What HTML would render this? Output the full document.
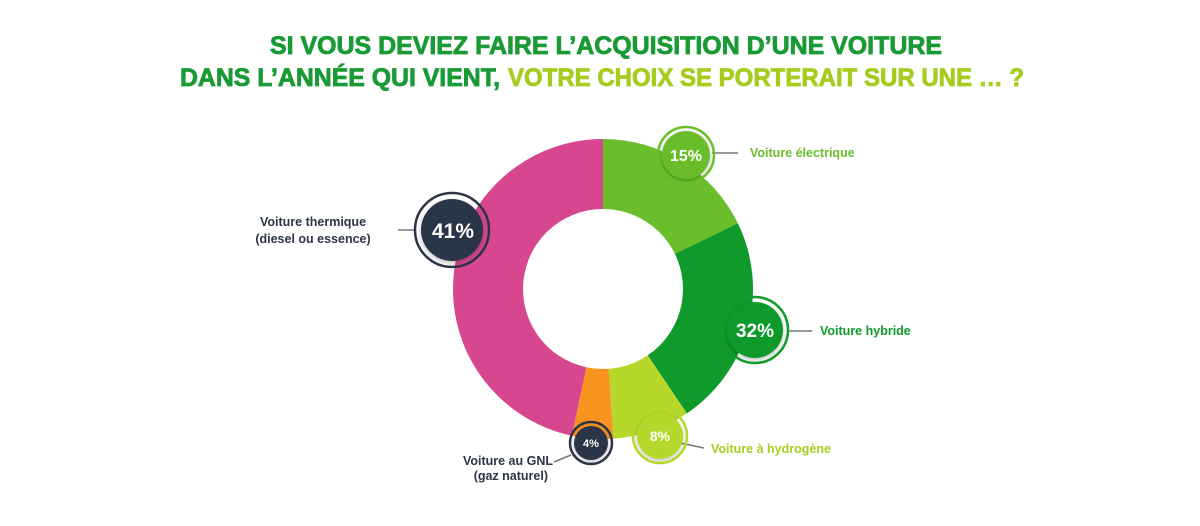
<!DOCTYPE html>
<html><head><meta charset="utf-8"><style>
html,body{margin:0;padding:0;background:#fff;}
svg{display:block;font-family:"Liberation Sans",sans-serif;}
</style></head><body>
<svg width="1200" height="526" viewBox="0 0 1200 526" xmlns="http://www.w3.org/2000/svg">
<defs>
<filter id="sh" x="-50%" y="-50%" width="200%" height="200%"><feDropShadow dx="0" dy="2" stdDeviation="3" flood-color="#000" flood-opacity="0.25"/></filter>
</defs>
<g stroke-width="0.8">
<text x="606" y="54" text-anchor="middle" font-size="25" font-weight="bold" fill="#199a34" stroke="#199a34" textLength="672" lengthAdjust="spacingAndGlyphs">SI VOUS DEVIEZ FAIRE L’ACQUISITION D’UNE VOITURE</text>
<text x="180" y="86" font-size="25" font-weight="bold" fill="#199a34" stroke="#199a34" textLength="320" lengthAdjust="spacingAndGlyphs">DANS L’ANNÉE QUI VIENT,</text>
<text x="508" y="86" font-size="25" font-weight="bold" fill="#a6cc1f" stroke="#a6cc1f" textLength="516" lengthAdjust="spacingAndGlyphs">VOTRE CHOIX SE PORTERAIT SUR UNE … ?</text>
</g>

<g id="donut"></g>
<circle cx="603" cy="289" r="80" fill="#fff"/>

<g stroke="#777" stroke-width="1.5" fill="none">
<line x1="712" y1="153" x2="738" y2="153"/>
<line x1="787" y1="331" x2="812" y2="331"/>
<line x1="680" y1="443" x2="704" y2="448"/>
<line x1="571" y1="455" x2="554" y2="462"/>
<line x1="398" y1="230" x2="416" y2="230"/>
</g>

<g filter="url(#sh)">
<circle cx="686" cy="155" r="24" fill="#6abd2b"/>
<circle cx="755" cy="330" r="28" fill="#0f9a2b"/>
<circle cx="660" cy="436" r="23" fill="#b6d82a"/>
<circle cx="591" cy="443" r="17" fill="#2c3446"/>
<circle cx="452" cy="230" r="31" fill="#2c3446"/>
</g>
<g fill="none" stroke-width="2.5">
<circle cx="686" cy="155" r="28" stroke="#6abd2b"/>
<circle cx="755" cy="330" r="33" stroke="#0f9a2b"/>
<circle cx="660" cy="436" r="27" stroke="#b6d82a"/>
<circle cx="591" cy="443" r="21" stroke="#2c3446"/>
<circle cx="452" cy="230" r="37" stroke="#2c3446"/>
</g>
<g fill="#fff" font-weight="bold" text-anchor="middle">
<text x="686" y="161" font-size="16">15%</text>
<text x="755" y="337" font-size="19">32%</text>
<text x="660" y="441" font-size="14">8%</text>
<text x="591" y="447" font-size="11">4%</text>
<text x="453" y="238" font-size="21">41%</text>
</g>

<g font-weight="bold" font-size="12.5">
<text x="750" y="157" fill="#6abd2b">Voiture électrique</text>
<text x="820" y="335" fill="#0f9a2b">Voiture hybride</text>
<text x="711" y="453" fill="#a6cc1f">Voiture à hydrogène</text>
<text x="553" y="465" fill="#2c3446" text-anchor="end">Voiture au GNL</text>
<text x="548" y="480" fill="#2c3446" text-anchor="end">(gaz naturel)</text>
<text x="313" y="226" fill="#2c3446" text-anchor="middle">Voiture thermique</text>
<text x="313" y="243" fill="#2c3446" text-anchor="middle">(diesel ou essence)</text>
</g>
<script>
(function(){
var cx=603,cy=289,R=150;
var segs=[[0,64,"#6abd2b"],[64,146,"#0f9a2b"],[146,176,"#b6d82a"],[176,192,"#f7931e"],[192,360,"#d6478f"]];
var g=document.getElementById("donut"),ns="http://www.w3.org/2000/svg";
function pt(a){var r=(a-90)*Math.PI/180;return (cx+R*Math.cos(r)).toFixed(2)+","+(cy+R*Math.sin(r)).toFixed(2);}
segs.forEach(function(s){var p=document.createElementNS(ns,"path");
var large=(s[1]-s[0])>180?1:0;
p.setAttribute("d","M"+cx+","+cy+" L"+pt(s[0])+" A"+R+","+R+" 0 "+large+" 1 "+pt(s[1])+" Z");
p.setAttribute("fill",s[2]);g.appendChild(p);});
})();
</script>
</svg>
</body></html>
